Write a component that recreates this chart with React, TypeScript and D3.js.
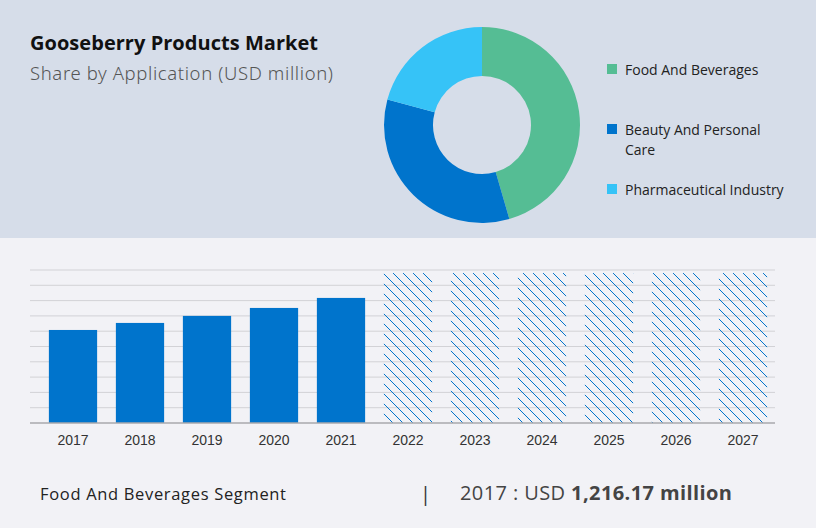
import { useEffect, useRef } from "react";
import * as d3 from "d3";

// donut: share by application
const segments = ["Food And Beverages", "Beauty And Personal Care", "Pharmaceutical Industry"];
const shares = [45.5, 33.7, 20.8];
const segmentColors = ["#55bd94", "#0074cc", "#36c3f7"];

// bars: market size (USD million)
const years = ["2017", "2018", "2019", "2020", "2021", "2022", "2023", "2024", "2025", "2026", "2027"];
const values = [1216.17, 1308, 1400, 1504, 1635, 1960, 1960, 1960, 1960, 1960, 1960];
const forecastFrom = "2022";
const yTicks = [0, 200, 400, 600, 800, 1000, 1200, 1400, 1600, 1800, 2000];

const W = 816;
const H = 528;

export default function App() {
    const svgRef = useRef<SVGSVGElement | null>(null);

    useEffect(() => {
        const svg = d3.select(svgRef.current);
        svg.selectAll("*").remove();

        const defs = svg.append("defs");
        const pat = defs.append("pattern")
            .attr("id", "hatch")
            .attr("patternUnits", "userSpaceOnUse")
            .attr("width", 10)
            .attr("height", 10);
        pat.append("path")
            .attr("d", "M0,0 L10,10 M-5,5 L5,15 M5,-5 L15,5")
            .attr("stroke", "#0074cc")
            .attr("stroke-width", 1);

        // backgrounds
        svg.append("rect").attr("width", W).attr("height", H).attr("fill", "#f2f2f6");
        svg.append("rect").attr("width", W).attr("height", 238).attr("fill", "#d6dde9");

        // titles
        svg.append("text")
            .attr("x", 30).attr("y", 50)
            .style("font-family", "'Open Sans', sans-serif")
            .style("font-weight", 700)
            .style("font-size", "20px")
            .attr("textLength", 288)
            .attr("fill", "#111")
            .text("Gooseberry Products Market");
        svg.append("text")
            .attr("x", 30).attr("y", 80)
            .style("font-family", "'Noto Sans', sans-serif")
            .style("font-weight", 300)
            .style("font-size", "18.5px")
            .attr("textLength", 303)
            .attr("fill", "#555")
            .text("Share by Application (USD million)");

        // donut
        const pie = d3.pie<number>().sort(null).value(d => d);
        const arc = d3.arc<d3.PieArcDatum<number>>().innerRadius(49).outerRadius(98);
        const donut = svg.append("g").attr("transform", "translate(482,125)");
        donut.selectAll("path")
            .data(pie(shares))
            .join("path")
            .attr("d", arc)
            .attr("fill", (_d, i) => segmentColors[i]);

        // legend
        const legendLines = [["Food And Beverages"], ["Beauty And Personal", "Care"], ["Pharmaceutical Industry"]];
        const legendY = [75, 135, 195];
        segments.forEach((_s, i) => {
            const g = svg.append("g").attr("transform", `translate(607,${legendY[i]})`);
            g.append("rect").attr("x", 0).attr("y", -11).attr("width", 10).attr("height", 10)
                .attr("fill", segmentColors[i]);
            legendLines[i].forEach((line, j) => {
                g.append("text")
                    .attr("x", 18).attr("y", j * 20)
                    .style("font-family", "'Open Sans', sans-serif")
                    .style("font-size", "14px")
                    .attr("fill", "#222")
                    .text(line);
            });
        });

        // bar chart
        const top = 270, bottom = 423;
        const x = d3.scaleBand().domain(years).range([39.5, 776.5]).paddingInner(0.28).paddingOuter(0.14);
        const y = d3.scaleLinear().domain([0, 2000]).range([bottom, top]);

        svg.append("g")
            .selectAll("line")
            .data(yTicks.slice(1))
            .join("line")
            .attr("x1", 30).attr("x2", 775)
            .attr("y1", d => y(d)).attr("y2", d => y(d))
            .attr("stroke", "#d2d2d6")
            .attr("stroke-width", 1);

        const forecastIdx = years.indexOf(forecastFrom);
        svg.append("g")
            .selectAll("rect")
            .data(years)
            .join("rect")
            .attr("x", d => x(d)!)
            .attr("width", x.bandwidth())
            .attr("y", (_d, i) => y(values[i]))
            .attr("height", (_d, i) => bottom - y(values[i]))
            .attr("fill", (_d, i) => i >= forecastIdx ? "url(#hatch)" : "#0074cc");

        svg.append("line")
            .attr("x1", 30).attr("x2", 775)
            .attr("y1", bottom).attr("y2", bottom)
            .attr("stroke", "#a8a8ad").attr("stroke-width", 1.5);

        const xAxis = svg.append("g")
            .attr("transform", `translate(0,${bottom})`)
            .call(d3.axisBottom(x).tickSize(0).tickPadding(12));
        xAxis.select(".domain").remove();
        xAxis.selectAll("text")
            .style("font-family", "'Liberation Sans', Arial, sans-serif")
            .style("font-size", "14px")
            .attr("fill", "#333");

        // footer
        svg.append("text")
            .attr("x", 40).attr("y", 500)
            .style("font-family", "'Open Sans', sans-serif")
            .style("font-size", "16.5px")
            .attr("fill", "#222")
            .attr("textLength", 246)
            .text("Food And Beverages Segment");
        svg.append("text")
            .attr("x", 420).attr("y", 501)
            .style("font-family", "'Open Sans', sans-serif")
            .style("font-size", "20px")
            .attr("fill", "#333")
            .text("|");
        const val = svg.append("text")
            .attr("x", 460).attr("y", 500)
            .style("font-family", "'Open Sans', sans-serif")
            .style("font-size", "20px")
            .attr("textLength", 272)
            .attr("fill", "#444");
        val.append("tspan").text(`${years[0]} : USD `);
        val.append("tspan").style("font-weight", 700)
            .text(`${d3.format(",.2f")(values[0])} million`);
    }, []);

    return (
        <div style={{ position: "absolute", left: 0, top: 0 }}>
            <svg ref={svgRef} width={W} height={H} style={{ display: "block" }} />
        </div>
    );
}
